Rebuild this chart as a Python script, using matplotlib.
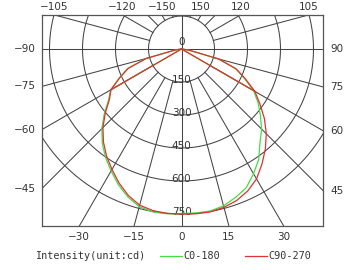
import numpy as np
import matplotlib
matplotlib.use("Agg")
import matplotlib.pyplot as plt
from matplotlib.lines import Line2D

# ---- data ----
angles = [0, 5, 10, 15, 20, 25, 30, 35, 40, 45, 50, 55, 60, 65, 70, 75, 80, 85, 90]
c0_right = [745, 748, 748, 738, 718, 696, 655, 612, 555, 515, 468, 425, 378, 315, 262, 172, 40, 8, 0]
c0_left = [748, 752, 752, 742, 715, 680, 640, 602, 560, 512, 458, 405, 372, 312, 262, 168, 35, 6, 0]
c90_right = [750, 752, 752, 745, 733, 712, 682, 638, 593, 545, 492, 435, 385, 320, 265, 175, 42, 8, 0]
c90_left = [750, 750, 746, 735, 708, 672, 632, 594, 552, 505, 452, 400, 370, 310, 258, 166, 33, 6, 0]
kink_angle = 60
ring_values = [150, 300, 450, 600, 750]
radial_angles = list(range(-180, 181, 15))
top_labels = [-105, -120, -150, 150, 120, 105]
left_labels = [-90, -75, -60, -45]
right_labels = [90, 75, 60, 45]
bottom_labels = [-30, -15, 0, 15, 30]
series_names = ["C0-180", "C90-270"]
series_colors = ["#44dd44", "#dd3333"]
unit_label = "Intensity(unit:cd)"

# ---- geometry ----
W, H = 360, 270
cx, cy = 181.5, 49.0          # pixel centre
px_per_150 = 33.0
s = 150.0 / px_per_150        # cd per pixel
L, R, T, B = 42, 323, 15, 226
xmin, xmax = (L - cx) * s, (R - cx) * s
ymax, ymin = (cy - T) * s, -(B - cy) * s

fig = plt.figure(figsize=(W / 100, H / 100), dpi=100)
ax = fig.add_axes([L / W, 1 - B / H, (R - L) / W, (B - T) / H])
ax.set_xlim(xmin, xmax)
ax.set_ylim(ymin, ymax)
ax.set_xticks([]); ax.set_yticks([])
for sp in ax.spines.values():
    sp.set_color("#555555"); sp.set_linewidth(0.9)

gc = "#444444"; glw = 0.75

def pol(theta_deg, r):
    t = np.radians(theta_deg)
    return r * np.sin(t), -r * np.cos(t)

# rings
tt = np.linspace(0, 2 * np.pi, 400)
for rv in ring_values:
    ax.plot(rv * np.cos(tt), rv * np.sin(tt), color=gc, lw=glw, zorder=1)
# radial lines
for a in radial_angles:
    r0 = 0 if a % 90 == 0 else ring_values[0]
    x0, y0 = pol(a, r0); x1, y1 = pol(a, 3000)
    ax.plot([x0, x1], [y0, y1], color=gc, lw=glw, zorder=1)

# ring labels
tf = dict(fontsize=7.5, color="#333333", family="DejaVu Sans")
ax.text(0, 30, "0", ha="center", va="center", zorder=2, **tf)
for rv in ring_values:
    ax.text(0, -rv + 8, str(rv), ha="center", va="center", zorder=2, **tf)

# curves
def curve(left, right):
    th = [-a for a in angles[::-1]] + angles[1:]
    rr = left[::-1] + right[1:]
    return pol(np.array(th, float), np.array(rr, float))

for (lft, rgt), col in zip([(c0_left, c0_right), (c90_left, c90_right)], series_colors):
    x, y = curve(lft, rgt)
    ax.plot(x, y, color=col, lw=0.9, zorder=3)
    k = angles.index(kink_angle)
    for sign, arr in [(-1, lft), (1, rgt)]:
        kx, ky = pol(sign * kink_angle, arr[k])
        ax.plot([0, kx], [0, ky], color=col, lw=0.9, zorder=3)

# edge tick labels
lf = dict(fontsize=7.5, color="#333333", family="DejaVu Sans")
def fx(xd): return (xd / s + cx) / W
def fy(yd): return 1 - (cy - yd / s) / H
for a in top_labels:
    t = np.radians(a)
    # intersection with top edge
    xd = ymax * np.sin(t) / (-np.cos(t))
    fig.text(fx(xd), 1 - 7 / H, str(a).replace("-", "\u2212"), ha="center", va="center", **lf)
for a in left_labels:
    t = np.radians(a)
    yd = -xmin * np.cos(t) / np.sin(t)
    fig.text(36 / W, fy(yd), str(a).replace("-", "\u2212"), ha="right", va="center", **lf)
for a in right_labels:
    t = np.radians(a)
    yd = -xmax * np.cos(t) / np.sin(t)
    fig.text(330 / W, fy(yd), str(a), ha="left", va="center", **lf)
for a in bottom_labels:
    t = np.radians(a)
    xd = -ymin * np.tan(t)
    fig.text(fx(xd), 1 - 237 / H, str(a).replace("-", "\u2212"), ha="center", va="center", **lf)

# legend
mf = dict(fontsize=7.3, color="#333333", family="DejaVu Sans Mono")
ly = 1 - 256 / H
fig.text(35 / W, ly, unit_label, ha="left", va="center", **mf)
fig.add_artist(Line2D([160 / W, 182 / W], [ly, ly], color=series_colors[0], lw=0.9, transform=fig.transFigure))
fig.text(183 / W, ly, series_names[0], ha="left", va="center", **mf)
fig.add_artist(Line2D([245 / W, 267 / W], [ly, ly], color=series_colors[1], lw=0.9, transform=fig.transFigure))
fig.text(268 / W, ly, series_names[1], ha="left", va="center", **mf)

fig.savefig("out.png", dpi=100)
